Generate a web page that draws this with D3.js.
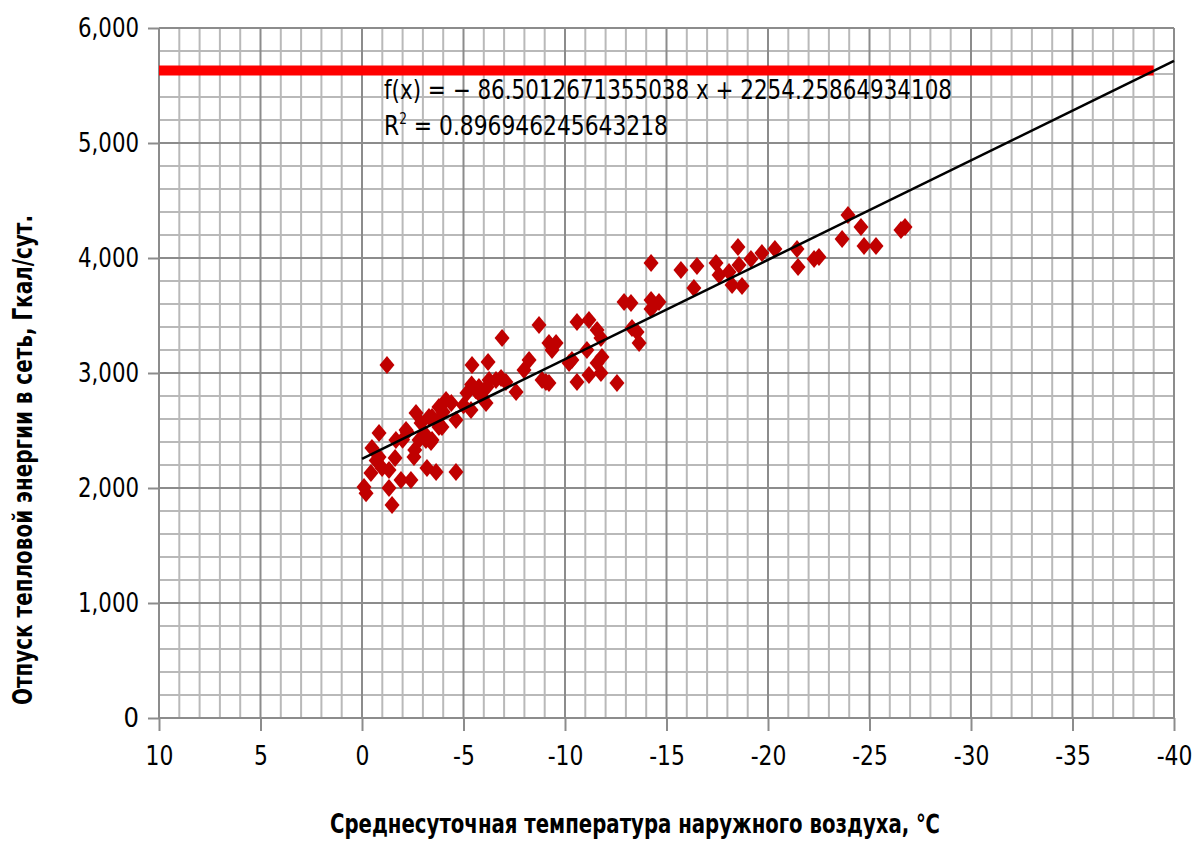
<!DOCTYPE html>
<html>
<head>
	<meta http-equiv="Content-Type" content="text/html;charset=utf-8">
	<title>Отпуск тепловой энергии</title>
	<script src="https://d3js.org/d3.v7.min.js"></script>
	<style>
		html,body {
			margin: 0;
			padding: 0;
			background: #ffffff;
		}
		text {
			font-family: "Liberation Sans Narrow", "DejaVu Sans Condensed", "Noto Sans", sans-serif;
			fill: #000;
		}
		.minor line { stroke: #b9b9b9; stroke-width: 2px; }
		.major line { stroke: #8c8c8c; stroke-width: 2px; }
		.axis path { display: none; }
		.axis line { stroke: #8c8c8c; stroke-width: 2px; }
	</style>
</head>
<body>
<script type="text/javascript">

	// temperature, °C
	let temps = [
		-26.75, -26.55, -25.32, -24.73, -24.58, -23.94, -23.65, -22.51, -22.27, -21.48,
		-21.43, -20.34, -19.70, -19.16, -18.52, -18.57, -18.72, -18.23, -18.08, -17.59,
		-17.44, -16.50, -16.35, -15.71, -14.24, -14.63, -14.24, -14.24, -13.25, -12.91,
		-13.30, -13.65, -13.55, -12.56,
		-10.59, -11.18, -11.58, -11.77, -11.08, -11.82, -11.58, -10.34, -10.20, -11.18,
		-11.77, -10.59, -9.21, -9.36, -9.56, -9.06, -9.21, -8.87, -8.72, -8.23,
		-7.98, -7.59, -6.90, -6.85, -7.09, -6.21, -6.26, -6.16, -5.76, -5.91,
		-6.11, -5.42, -5.17, -5.37, -4.14, -3.79, -4.63,
		-0.10, -0.20, -0.44, -0.49, -0.84, -0.84, -0.99, -1.33, -1.33, -1.48,
		-1.63, -1.67, -1.92, -2.22, -2.41, -2.56, -2.66, -2.81, -3.20, -3.30,
		-3.40, -3.65, -3.94, -4.63, -1.23, -2.91, -3.45, -3.79, -3.45, -3.15,
		-2.17, -4.00, -3.70, -4.40, -2.00, -0.70, -5.00, -5.60, -6.60, -5.40,
		-2.60, -3.10
	];

	// heat supply, Gcal/day
	let heat = [
		4270, 4244, 4104, 4104, 4270, 4374, 4165, 4009, 3991, 3922,
		4078, 4078, 4043, 3991, 4096, 3939, 3757, 3765, 3878, 3852,
		3957, 3930, 3739, 3896, 3957, 3617, 3635, 3557, 3609, 3617,
		3391, 3261, 3357, 2913,
		3444, 3461, 3374, 3304, 3200, 3139, 3087, 3113, 3087, 2983,
		3000, 2922, 3261, 3200, 3261, 2922, 2913, 2939, 3418, 3113,
		3026, 2835, 3304, 2957, 2922, 3096, 2939, 2878, 2878, 2791,
		2739, 3070, 2826, 2678, 2765, 2704, 2591,
		2009, 1955, 2130, 2348, 2478, 2270, 2174, 2157, 2000, 1852,
		2261, 2417, 2070, 2487, 2070, 2270, 2652, 2417, 2174, 2617,
		2400, 2139, 2530, 2139, 3070, 2565, 2617, 2530, 2417, 2417,
		2504, 2660, 2580, 2740, 2420, 2240, 2720, 2850, 2940, 2900,
		2330, 2470
	];

	// trend line (from the equation) and the red limit line
	let slope = -86.5012671355038;
	let intercept = 2254.25864934108;
	let trendX = [0, -40];
	let limitY = 5630;
	let limitX = [10, -39];

	let xTicks = [10, 5, 0, -5, -10, -15, -20, -25, -30, -35, -40];
	let yTicks = [0, 1000, 2000, 3000, 4000, 5000, 6000];

	let eqText = "f(x) = − 86.5012671355038 x + 2254.25864934108";
	let r2Value = "0.896946245643218";

	let width = 1197;
	let height = 841;
	let pLeft = 159, pRight = 1174, pTop = 28, pBottom = 718;

	let x = d3.scaleLinear().domain([10, -40]).range([pLeft, pRight]);
	let y = d3.scaleLinear().domain([0, 6000]).range([pBottom, pTop]);

	let svg = d3.select("body").append("svg")
		.attr("width", width)
		.attr("height", height);

	// minor grid
	let minor = svg.append("g").attr("class", "minor");
	minor.selectAll(".vx")
		.data(d3.range(10, -41, -1).filter(function(d){ return d % 5 != 0; }))
		.enter().append("line")
		.attr("x1", function(d){ return x(d); })
		.attr("x2", function(d){ return x(d); })
		.attr("y1", y(0)).attr("y2", y(6000));
	minor.selectAll(".hy")
		.data(d3.range(0, 6001, 200).filter(function(d){ return d % 1000 != 0; }))
		.enter().append("line")
		.attr("y1", function(d){ return y(d); })
		.attr("y2", function(d){ return y(d); })
		.attr("x1", x(10)).attr("x2", x(-40));

	// major grid
	let major = svg.append("g").attr("class", "major");
	major.selectAll(".vx")
		.data(xTicks)
		.enter().append("line")
		.attr("x1", function(d){ return x(d); })
		.attr("x2", function(d){ return x(d); })
		.attr("y1", y(0)).attr("y2", y(6000));
	major.selectAll(".hy")
		.data(yTicks)
		.enter().append("line")
		.attr("y1", function(d){ return y(d); })
		.attr("y2", function(d){ return y(d); })
		.attr("x1", x(10)).attr("x2", x(-40));

	// axes
	let xAxis = svg.append("g")
		.attr("class", "axis")
		.attr("transform", "translate(0," + pBottom + ")")
		.call(d3.axisBottom(x).tickValues(xTicks).tickSize(13).tickPadding(15)
			.tickFormat(function(d){ return String(d); }));
	xAxis.selectAll("text").style("font-size", "27px").attr("transform", "scale(0.9,1)");

	let yAxis = svg.append("g")
		.attr("class", "axis")
		.attr("transform", "translate(" + pLeft + ",0)")
		.call(d3.axisLeft(y).tickValues(yTicks).tickSize(11).tickPadding(9).tickFormat(d3.format(",")));
	yAxis.selectAll("text").style("font-size", "27px").attr("textLength", function(d){ return d == 0 ? null : 61; })
		.attr("lengthAdjust", "spacingAndGlyphs");

	// red line
	svg.append("line")
		.attr("x1", x(limitX[0])).attr("x2", x(limitX[1]))
		.attr("y1", y(limitY)).attr("y2", y(limitY))
		.style("stroke", "#ff0000")
		.style("stroke-width", 10);

	// points
	let pts = temps.map(function(t, i){ return {t: t, q: heat[i]}; });
	svg.append("g").selectAll("path")
		.data(pts)
		.enter().append("path")
		.attr("d", "M0,-9L7.5,0L0,9L-7.5,0Z")
		.attr("transform", function(d){ return "translate(" + x(d.t) + "," + y(d.q) + ")"; })
		.style("fill", "#c00000");

	// trend line
	let trendLine = d3.line()
		.x(function(d){ return x(d); })
		.y(function(d){ return y(slope * d + intercept); });
	svg.append("path")
		.attr("d", trendLine(trendX))
		.style("fill", "none")
		.style("stroke", "#000")
		.style("stroke-width", 2.5);

	// equation
	svg.append("text")
		.attr("x", 384).attr("y", 99)
		.style("font-size", "27px")
		.attr("textLength", 568)
		.attr("lengthAdjust", "spacingAndGlyphs")
		.text(eqText);
	let r2 = svg.append("text")
		.attr("x", 384).attr("y", 135)
		.style("font-size", "27px")
		.attr("textLength", 284)
		.attr("lengthAdjust", "spacingAndGlyphs");
	r2.append("tspan").text("R");
	r2.append("tspan").attr("dy", -11).style("font-size", "15px").text("2");
	r2.append("tspan").attr("dy", 11).text(" = " + r2Value);

	// axis titles
	svg.append("text")
		.attr("x", 635).attr("y", 833)
		.attr("text-anchor", "middle")
		.style("font-size", "26px")
		.style("font-weight", "bold")
		.attr("textLength", 610)
		.attr("lengthAdjust", "spacingAndGlyphs")
		.text("Среднесуточная температура наружного воздуха, ℃");

	svg.append("text")
		.attr("transform", "translate(32,460) rotate(-90)")
		.attr("text-anchor", "middle")
		.style("font-size", "26px")
		.style("font-weight", "bold")
		.attr("textLength", 490)
		.attr("lengthAdjust", "spacingAndGlyphs")
		.text("Отпуск тепловой энергии в сеть, Гкал/сут.");

</script>
</body>
</html>
